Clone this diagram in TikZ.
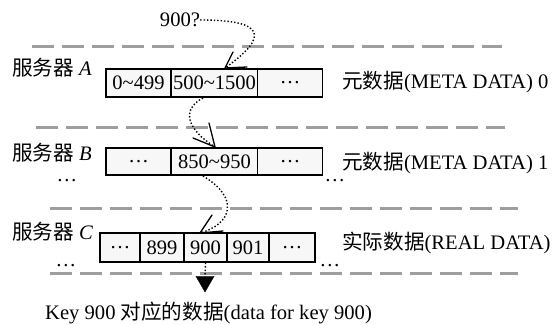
\documentclass[tikz,border=0pt]{standalone}
\usepackage{fontspec}
\setmainfont{Liberation Serif}
\newfontfamily\cjk{Noto Sans CJK SC}
\usetikzlibrary{shapes.geometric}
\begin{document}
\begin{tikzpicture}[x=1pt,y=-1pt,
  every node/.style={font=\fontsize{20.6}{24}\selectfont, inner sep=0pt},
  cell/.style={draw=black, line width=1.6pt, fill=black!3, minimum height=28pt, anchor=center, font=\fontsize{20.5}{24}\selectfont},
  sep/.style={draw=black!38, line width=3pt, dash pattern=on 22pt off 8pt},
  lbl/.style={anchor=west},
  ell/.style={text height=2pt, text depth=0pt},
  dotl/.style={line width=1.4pt, dotted},
  barb/.style={line width=1.3pt, line cap=round}]
\useasboundingbox (0,0) rectangle (553,324);
% separators
\draw[sep] (32,46) -- (502,46);
\draw[sep] (36,127) -- (505,127);
\draw[sep] (50,208) -- (518,208);
\draw[sep] (50,273) -- (518,273);
% query
\node (q) at (180,20) {900?};
% row A
\node[lbl] (la) at (12,68) {{\cjk 服务器} \textit{A}};
\node[cell, minimum width=65pt] (a1) at (138.5,83) {0\textasciitilde499};
\node[cell, minimum width=86pt] (a2) at (214.5,83) {500\textasciitilde1500};
\node[cell, minimum width=65pt] (a3) at (290,83) {\dots};
\node[lbl] (ra) at (342,82) {{\cjk 元数据}(META DATA) 0};
% row B
\node[lbl] (lb) at (12,153) {{\cjk 服务器} \textit{B}};
\node[cell, minimum width=65pt, minimum height=27pt] (b1) at (138.5,161.5) {\dots};
\node[cell, minimum width=86pt, minimum height=27pt] (b2) at (214.5,161.5) {850\textasciitilde950};
\node[cell, minimum width=65pt, minimum height=27pt] (b3) at (290,161.5) {\dots};
\node[lbl] (rb) at (342,163) {{\cjk 元数据}(META DATA) 1};
\node[ell] (db1) at (67,180) {\dots};
\node[ell] (db2) at (335,180) {\dots};
% row C
\node[lbl] (lc) at (12,232) {{\cjk 服务器} \textit{C}};
\node[cell, minimum width=40pt, minimum height=29pt] (c1) at (120,247.5) {\dots};
\node[cell, minimum width=44pt, minimum height=29pt] (c2) at (162,247.5) {899};
\node[cell, minimum width=43pt, minimum height=29pt] (c3) at (205.5,247.5) {900};
\node[cell, minimum width=42pt, minimum height=29pt] (c4) at (248,247.5) {901};
\node[cell, minimum width=46pt, minimum height=29pt] (c5) at (292,247.5) {\dots};
\node[lbl] (rc) at (342,243) {{\cjk 实际数据}(REAL DATA)};
\node[ell] (dc1) at (66,265) {\dots};
\node[ell] (dc2) at (330,265) {\dots};
% result
\node[fill=black, draw=black, regular polygon, regular polygon sides=3, shape border rotate=180, minimum size=21pt, inner sep=0pt] (tri) at (205,281.5) {};
\node[lbl] (res) at (45,313) {Key 900 {\cjk 对应的数据}(data for key 900)};
% hop tips and barb ends
\coordinate (t1) at (225,68);
\coordinate (t1a) at (233,52);
\coordinate (t1b) at (247,67);
\coordinate (s2) at (203,98);
\coordinate (t2) at (215,147);
\coordinate (t2a) at (193,138);
\coordinate (t2b) at (209,123);
\coordinate (s3) at (203,176);
\coordinate (t3) at (200,233);
\coordinate (t3a) at (212,215);
\coordinate (t3b) at (223,231);
% hops
\draw[dotl] (q.east) .. controls (265,20) and (270,36) .. (t1);
\draw[dotl] (s2) .. controls (180,110) and (188,130) .. (t2);
\draw[dotl] (s3) .. controls (240,198) and (232,224) .. (t3);
\draw[barb] (t1a) -- (t1) -- (t1b);
\draw[barb] (t2a) -- (t2) -- (t2b);
\draw[barb] (t3a) -- (t3) -- (t3b);
\draw[dotl] (c3.south) -- (tri.north);
\end{tikzpicture}
\end{document}
